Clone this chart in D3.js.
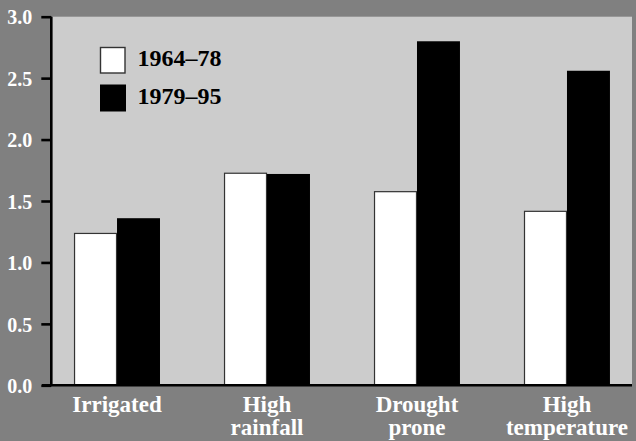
<!DOCTYPE html>
<html><head><meta charset="utf-8">
<script src="https://cdn.jsdelivr.net/npm/d3@7"></script>
<style>
html,body{margin:0;padding:0;background:#808080;}
svg{display:block;}
text{font-family:"Liberation Serif","Times New Roman",serif;font-weight:bold;}
</style></head>
<body>
<script>
const categories = ["Irrigated", "High\nrainfall", "Drought\nprone", "High\ntemperature"];
const seriesNames = ["1964–78", "1979–95"];
const values1964 = [1.24, 1.73, 1.58, 1.42];
const values1979 = [1.36, 1.72, 2.80, 2.56];
const yTicks = [0, 0.5, 1.0, 1.5, 2.0, 2.5, 3.0];

const W = 636, H = 441;
const svg = d3.select("body").append("svg").attr("width", W).attr("height", H);
svg.append("rect").attr("width", W).attr("height", H).attr("fill", "#808080");

const x0 = 52, x1 = 632, yTop = 16.7, yBot = 385.3;
const y = d3.scaleLinear().domain([0, 3]).range([yBot, yTop]);
const x = d3.scaleBand().domain(categories).range([x0, x1]).paddingInner(0.427).paddingOuter(0.147);
const xs = d3.scaleBand().domain(seriesNames).range([0, x.bandwidth()]);

// plot area
svg.append("rect").attr("x", x0).attr("y", yTop).attr("width", x1 - x0).attr("height", yBot - yTop).attr("fill", "#cccccc");

// bars
const data = categories.map((c, i) => ({c, vals: [values1964[i], values1979[i]]}));
const g = svg.append("g");
data.forEach(d => {
  d.vals.forEach((v, j) => {
    const bx = x(d.c) + xs(seriesNames[j]);
    g.append("rect")
      .attr("x", bx + (j === 0 ? 0.5 : 0))
      .attr("y", y(v) + (j === 0 ? 0.5 : 0))
      .attr("width", xs.bandwidth() - (j === 0 ? 1 : 0))
      .attr("height", yBot - y(v) - (j === 0 ? 0.5 : 0))
      .attr("fill", j === 0 ? "#ffffff" : "#000000")
      .attr("stroke", j === 0 ? "#333333" : "none")
      .attr("stroke-width", 1.2);
  });
});

// y axis
const yAxis = d3.axisLeft(y).tickValues(yTicks).tickFormat(d3.format(".1f")).tickSize(10).tickPadding(9);
const ya = svg.append("g").attr("transform", `translate(${x0 - 0.7},0)`).call(yAxis);
ya.select(".domain").attr("stroke", "#000").attr("stroke-width", 2.6).attr("d", `M0,${yTop}V${yBot}`);
ya.selectAll(".tick line").attr("stroke", "#000").attr("stroke-width", 2.6);
ya.selectAll(".tick text").attr("fill", "#ffffff").attr("font-size", 20).attr("dy", "0.36em")
  .attr("font-family", "Liberation Serif").attr("font-weight", "bold");

// x baseline
svg.append("line").attr("x1", 42).attr("x2", x1).attr("y1", yBot).attr("y2", yBot)
  .attr("stroke", "#000").attr("stroke-width", 2.6);

// x labels
const xl = svg.append("g");
categories.forEach(c => {
  const lines = c.split("\n");
  const t = xl.append("text").attr("text-anchor", "middle").attr("fill", "#fff").attr("font-size", 23)
    .attr("x", x(c) + x.bandwidth() / 2).attr("y", 412);
  lines.forEach((ln, i) => {
    t.append("tspan").attr("x", x(c) + x.bandwidth() / 2).attr("dy", i === 0 ? 0 : 23).text(ln);
  });
});

// legend
const leg = svg.append("g");
seriesNames.forEach((s, i) => {
  const ly = 47 + i * 37.5;
  leg.append("rect").attr("x", 100.5 + (i ? -0.5 : 0)).attr("y", ly + (i ? 0 : 0.5))
    .attr("width", i ? 26 : 24.5).attr("height", i ? 27 : 25.5)
    .attr("fill", i ? "#000" : "#fff").attr("stroke", i ? "none" : "#333").attr("stroke-width", 1.4);
  leg.append("text").attr("x", 137.5).attr("y", ly + 19).attr("font-size", 24).attr("fill", "#000").text(s);
});
</script>
</body></html>
